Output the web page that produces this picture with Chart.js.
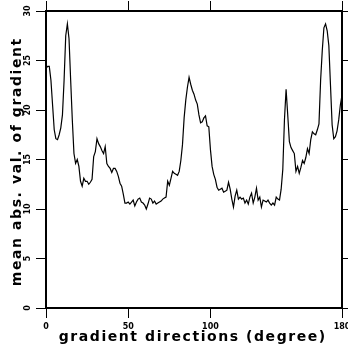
<!DOCTYPE html>
<html>
<head>
<meta charset="utf-8">
<script src="https://cdn.jsdelivr.net/npm/chart.js@4/dist/chart.umd.min.js"></script>
<style>
  html, body { margin: 0; padding: 0; background: #fff; }
  #wrap { width: 348px; height: 352px; }
</style>
</head>
<body>
<div id="wrap"><canvas id="chart" width="348" height="352"></canvas></div>
<script>
// mean abs. value of gradient per direction (1 degree steps, 0..180)
const meanGradient = [
  24.2, 24.4, 24.4, 23.0, 20.5, 18.0, 17.1, 17.0, 17.5, 18.2,
  19.5, 23.0, 27.5, 28.7, 27.2, 23.0, 19.0, 15.6, 14.6, 15.0,
  14.3, 12.8, 12.3, 13.1, 12.8, 12.8, 12.5, 12.7, 13.0, 15.3,
  15.8, 17.1, 16.6, 16.3, 15.9, 15.6, 16.3, 14.6, 14.3, 14.1,
  13.7, 14.1, 14.1, 13.8, 13.3, 12.6, 12.3, 11.5, 10.6, 10.6,
  10.7, 10.5, 10.7, 10.9, 10.3, 10.7, 11.0, 11.1, 10.7, 10.6,
  10.4, 10.0, 10.5, 11.1, 11.0, 10.6, 10.8, 10.5, 10.6, 10.7,
  10.8, 11.0, 11.1, 11.2, 12.8, 12.4, 13.1, 13.8, 13.6, 13.5,
  13.4, 13.8, 14.9, 16.5, 19.2, 21.0, 22.3, 23.3, 22.6, 22.0,
  21.6, 21.0, 20.6, 19.5, 18.7, 18.8, 19.2, 19.4, 18.4, 18.3,
  16.0, 14.3, 13.5, 13.0, 12.2, 11.9, 12.0, 12.1, 11.7, 11.8,
  11.9, 12.7, 12.0, 11.0, 10.2, 11.3, 11.9, 11.0, 11.2, 11.0,
  11.1, 10.6, 10.9, 10.5, 11.2, 11.6, 10.6, 11.2, 12.1, 10.9,
  11.2, 10.2, 10.9, 10.8, 10.7, 10.9, 10.6, 10.4, 10.6, 10.4,
  11.2, 11.0, 10.9, 12.0, 14.0, 19.0, 22.1, 19.5, 16.8, 16.2,
  15.9, 15.6, 13.8, 14.3, 13.6, 14.2, 14.9, 14.6, 15.2, 16.1,
  15.6, 17.0, 17.8, 17.6, 17.5, 18.0, 18.6, 23.0, 26.0, 28.3,
  28.7, 28.0, 26.5, 22.5, 18.5, 17.1, 17.3, 17.9, 19.0, 20.5,
  21.5
];
const directions = meanGradient.map((_, i) => i); // degrees

const xTicks = [0, 50, 100, 180];
const yTicks = [0, 5, 10, 15, 20, 25, 30];

const xTitle = 'gradient directions (degree)';
const yTitle = 'mean abs. val. of gradient';

const FONT = '"DejaVu Sans", sans-serif';

// text with letter spacing stretched to a target width
function spacedText(ctx, txt, x, y, width){
  ctx.letterSpacing = '0px';
  const w = ctx.measureText(txt).width;
  const sp = (width - w) / txt.length;
  ctx.letterSpacing = sp + 'px';
  ctx.fillText(txt, x + sp / 2, y);
  ctx.letterSpacing = '0px';
}

const textPlugin = {
  id: 'gradsText',
  afterDraw(chart){
    const ctx = chart.ctx;
    const xs = chart.scales.x, ys = chart.scales.y;
    ctx.save();
    ctx.fillStyle = '#000';

    // x tick labels
    ctx.font = 'bold 8px ' + FONT;
    ctx.textAlign = 'center';
    ctx.textBaseline = 'middle';
    xTicks.forEach(v => ctx.fillText(String(v), xs.getPixelForValue(v), 327));

    // y tick labels, rotated
    yTicks.forEach(v => {
      ctx.save();
      ctx.translate(28, ys.getPixelForValue(v));
      ctx.rotate(-Math.PI / 2);
      ctx.fillText(String(v), 0, 0);
      ctx.restore();
    });

    // axis titles
    ctx.font = 'bold 14px ' + FONT;
    ctx.textBaseline = 'alphabetic';
    spacedText(ctx, xTitle, 192, 341, 268);

    ctx.save();
    ctx.translate(21, 162.5);
    ctx.rotate(-Math.PI / 2);
    spacedText(ctx, yTitle, 0, 0, 249);
    ctx.restore();

    ctx.restore();
  }
};

function axisOpts(extra){
  return Object.assign({
    grid: { drawOnChartArea: false, drawTicks: true, tickLength: 10, color: '#000', lineWidth: 1 },
    border: { display: true, color: '#000', width: 2 },
    ticks: { display: false }
  }, extra);
}

const setXTicks = s => { s.ticks = xTicks.map(v => ({ value: v })); };

new Chart(document.getElementById('chart'), {
  type: 'line',
  data: {
    labels: directions,
    datasets: [{
      data: meanGradient,
      borderColor: '#000',
      borderWidth: 1.2,
      pointRadius: 0,
      tension: 0,
      fill: false
    }]
  },
  options: {
    responsive: false,
    animation: false,
    devicePixelRatio: 1,
    layout: { padding: 0 },
    plugins: { legend: { display: false }, tooltip: { enabled: false } },
    scales: {
      x: axisOpts({ type: 'linear', position: 'bottom', min: 0, max: 180,
        afterBuildTicks: setXTicks, afterFit: s => { s.height = 44; } }),
      x2: axisOpts({ type: 'linear', position: 'top', min: 0, max: 180,
        afterBuildTicks: setXTicks, afterFit: s => { s.height = 11; } }),
      y: axisOpts({ type: 'linear', position: 'left', min: 0, max: 30,
        afterBuildTicks: s => { s.ticks = yTicks.map(v => ({ value: v })); },
        afterFit: s => { s.width = 46; } }),
      y2: axisOpts({ type: 'linear', position: 'right', min: 0, max: 30,
        afterBuildTicks: s => { s.ticks = yTicks.map(v => ({ value: v })); },
        afterFit: s => { s.width = 6; } })
    }
  },
  plugins: [textPlugin]
});
</script>
</body>
</html>
